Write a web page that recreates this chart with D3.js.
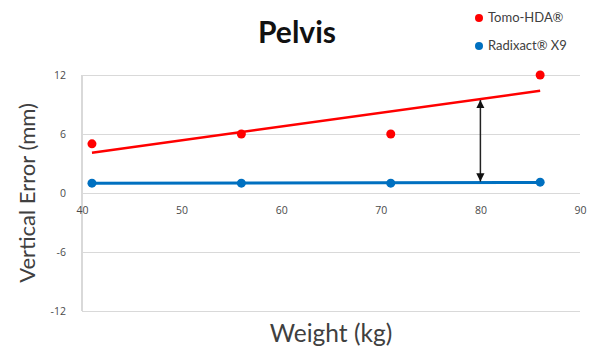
<!DOCTYPE html>
<html>
<head>
<meta charset="utf-8">
<script src="https://cdn.jsdelivr.net/npm/d3@7"></script>
<style>
  html, body { margin: 0; padding: 0; background: #fff; }
  svg { display: block; font-family: Lato, "Open Sans", sans-serif; }
</style>
</head>
<body>
<svg id="chart" width="597" height="348"></svg>
<script>
// Patient weight (kg) and vertical setup error (mm) for each system
const weights = [41, 56, 71, 86];
const tomoHDA = [5, 6, 6, 12];
const radixact = [1, 1, 1, 1.1];
const seriesNames = ["Tomo-HDA\u00AE", "Radixact\u00AE X9"];
const seriesColors = ["#ff0000", "#0070c0"];
const xTicks = [40, 50, 60, 70, 80, 90];
const yTicks = [-12, -6, 0, 6, 12];
const gapAt = 80; // weight where the difference between the fits is marked

const svg = d3.select("#chart");
const x = d3.scaleLinear().domain([40, 90]).range([82, 580]);
const y = d3.scaleLinear().domain([-12, 12]).range([311, 75]);

// least-squares fit
function fit(xs, ys) {
  const mx = d3.mean(xs), my = d3.mean(ys);
  const sxy = d3.sum(xs, (v, i) => (v - mx) * (ys[i] - my));
  const sxx = d3.sum(xs, v => (v - mx) ** 2);
  const b = sxy / sxx;
  return v => my + b * (v - mx);
}

// horizontal gridlines
svg.append("g")
  .attr("transform", `translate(${x(40)},0)`)
  .call(d3.axisLeft(y).tickValues(yTicks).tickSize(-(x(90) - x(40))).tickFormat(""))
  .call(g => g.select(".domain").remove())
  .call(g => g.selectAll("line").attr("stroke", "#d9d9d9").attr("stroke-width", 1.2));

// vertical axis line
svg.append("line")
  .attr("x1", x(40)).attr("x2", x(40))
  .attr("y1", y(12)).attr("y2", y(-12))
  .attr("stroke", "#d9d9d9").attr("stroke-width", 2);

// y tick labels (plain hyphen for negatives)
svg.append("g")
  .attr("transform", `translate(${x(40)},0)`)
  .call(d3.axisLeft(y).tickValues(yTicks).tickSize(0).tickPadding(16).tickFormat(d => String(d)))
  .call(g => g.select(".domain").remove())
  .call(g => g.selectAll("text").attr("fill", "#4a4a4a")
    .style("font-size", "10.5px").style("font-family", "'Open Sans', sans-serif"));

// x tick labels sit just under the zero line
svg.append("g")
  .attr("transform", `translate(0,${y(0)})`)
  .call(d3.axisBottom(x).tickValues(xTicks).tickSize(0).tickPadding(14).tickFormat(d => String(d)))
  .call(g => g.select(".domain").remove())
  .call(g => g.selectAll("text").attr("fill", "#4a4a4a")
    .style("font-size", "10.5px").style("font-family", "'Open Sans', sans-serif"));

// trend lines and points
[tomoHDA, radixact].forEach((vals, k) => {
  const f = fit(weights, vals);
  const x0 = d3.min(weights), x1 = d3.max(weights);
  svg.append("line")
    .attr("x1", x(x0)).attr("y1", y(f(x0)))
    .attr("x2", x(x1)).attr("y2", y(f(x1)))
    .attr("stroke", seriesColors[k]).attr("stroke-width", k === 0 ? 2.5 : 3);
  svg.append("g").selectAll("circle")
    .data(weights)
    .join("circle")
    .attr("cx", d => x(d))
    .attr("cy", (d, i) => y(vals[i]))
    .attr("r", 4.5)
    .attr("fill", seriesColors[k]);
});

// double-headed arrow between the two fits
const fRed = fit(weights, tomoHDA), fBlue = fit(weights, radixact);
const defs = svg.append("defs");
["start", "end"].forEach(id => {
  defs.append("marker")
    .attr("id", "arrow-" + id)
    .attr("viewBox", "0 0 10 10")
    .attr("refX", 10).attr("refY", 5)
    .attr("markerWidth", 5.5).attr("markerHeight", 5.5)
    .attr("orient", id === "start" ? "auto-start-reverse" : "auto")
    .append("path").attr("d", "M0,0 L10,5 L0,10 Z").attr("fill", "#111");
});
svg.append("line")
  .attr("x1", x(gapAt)).attr("x2", x(gapAt))
  .attr("y1", y(fRed(gapAt)) + 1).attr("y2", y(fBlue(gapAt)) - 1)
  .attr("stroke", "#222").attr("stroke-width", 1.5)
  .attr("marker-start", "url(#arrow-start)")
  .attr("marker-end", "url(#arrow-end)");

// title
svg.append("text")
  .attr("x", 297).attr("y", 43)
  .attr("text-anchor", "middle")
  .attr("fill", "#111")
  .style("font-size", "30px").style("font-weight", "bold")
  .text("Pelvis");

// axis titles
svg.append("text")
  .attr("x", 331).attr("y", 342)
  .attr("text-anchor", "middle")
  .attr("fill", "#404040")
  .style("font-size", "24.5px")
  .text("Weight (kg)");

svg.append("text")
  .attr("transform", `translate(35,193) rotate(-90)`)
  .attr("text-anchor", "middle")
  .attr("fill", "#404040")
  .style("font-size", "22px")
  .text("Vertical Error (mm)");

// legend
const legend = svg.append("g");
seriesNames.forEach((name, k) => {
  const ly = 18 + k * 28;
  legend.append("circle").attr("cx", 479).attr("cy", ly).attr("r", 4).attr("fill", seriesColors[k]);
  legend.append("text")
    .attr("x", 488).attr("y", ly + 1)
    .attr("dominant-baseline", "middle")
    .attr("fill", "#404040")
    .style("font-size", "13px")
    .text(name);
});
</script>
</body>
</html>
